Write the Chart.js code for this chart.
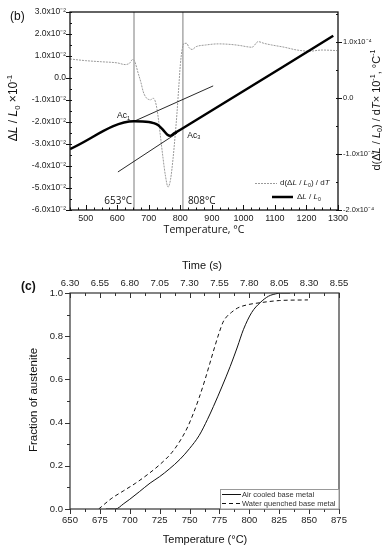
<!DOCTYPE html>
<html>
<head>
<meta charset="utf-8">
<script src="https://cdn.jsdelivr.net/npm/chart.js@4.4.1/dist/chart.umd.min.js"></script>
<style>
body { margin: 0; background: #fff; }
#wrap { position: relative; width: 389px; height: 550px; }
#chartB { position: absolute; left: 0; top: 0; }
#chartC { position: absolute; left: 0; top: 250px; }
</style>
</head>
<body>
<div id="wrap">
<canvas id="chartB" width="389" height="250"></canvas>
<canvas id="chartC" width="389" height="300"></canvas>
</div>
<script>
// ---- pannello (b): dilatometria ----
// dL/L0 in unita di 1e-2
var tempDil = [450, 653, 700, 715, 730, 745, 758, 767, 780, 800, 1285];
var dil = [-3.23, -1.97, -2.0, -2.05, -2.15, -2.36, -2.57, -2.63, -2.52, -2.35, 1.92];
// d(dL/L0)/dT in unita di 1e-4
var tempDer = [450, 500, 550, 600, 625, 640, 648, 655, 666, 675, 682, 690, 698, 706, 713, 720, 726, 731, 736, 745, 753, 761, 769, 777, 783, 789, 795, 800, 806, 812, 820, 828, 837, 850, 880, 920, 960, 990, 1010, 1027, 1047, 1065, 1090, 1130, 1170, 1210, 1250, 1297];
var der = [0.70, 0.67, 0.65, 0.63, 0.60, 0.63, 0.69, 0.66, 0.45, 0.28, 0.12, 0.02, -0.02, -0.03, 0.0, -0.05, -0.2, -0.4, -0.64, -1.07, -1.4, -1.59, -1.45, -1.07, -0.7, -0.29, 0.2, 0.6, 0.88, 0.98, 0.98, 0.9, 0.87, 0.92, 0.95, 0.97, 0.96, 0.94, 0.92, 0.91, 1.01, 0.98, 0.95, 0.91, 0.86, 0.84, 0.86, 0.85];
// rette tangenti
var tan1T = [653, 904];
var tan1V = [-1.97, -0.36];
var tan2T = [602, 790];
var tan2V = [-4.27, -2.5];
// temperature di trasformazione Ac1, Ac3
var transT = [653, 808];
var transLabels = ['653°C', '808°C'];
var ticksTempB = [500, 600, 700, 800, 900, 1000, 1100, 1200, 1300];
var ticksLeftB = [-6, -5, -4, -3, -2, -1, 0, 1, 2, 3];
var ticksRightB = [-2, -1, 0, 1];

// ---- pannello (c): frazione di austenite ----
var tempAir = [680, 688, 695, 700, 708, 717, 725, 733, 742, 750, 758, 765, 770, 777, 784, 790, 795, 802, 809, 816, 822, 826, 834];
var fracAir = [0, 0, 0.025, 0.045, 0.08, 0.12, 0.15, 0.185, 0.23, 0.28, 0.34, 0.415, 0.475, 0.565, 0.66, 0.75, 0.83, 0.91, 0.955, 0.985, 0.996, 1.0, 1.0];
var tempWater = [674, 685, 695, 705, 715, 725, 735, 742, 748, 753, 758, 763, 767, 771, 775, 778, 781, 785, 790, 798, 809, 825, 849];
var fracWater = [0, 0.05, 0.085, 0.12, 0.16, 0.205, 0.26, 0.315, 0.375, 0.44, 0.515, 0.6, 0.675, 0.75, 0.82, 0.865, 0.89, 0.91, 0.93, 0.945, 0.955, 0.965, 0.968];
var ticksTempC = [650, 675, 700, 725, 750, 775, 800, 825, 850, 875];
var ticksTime = [6.30, 6.55, 6.80, 7.05, 7.30, 7.55, 7.80, 8.05, 8.30, 8.55];
var ticksFrac = [0, 0.2, 0.4, 0.6, 0.8, 1.0];

function punti(xs, ys) {
    return xs.map(function (x, i) { return { x: x, y: ys[i] }; });
}
function passi(a, b, s) {
    var out = [];
    for (var v = a; v <= b + 1e-9; v += s) out.push(v);
    return out;
}

// testo con corsivo / pedici / apici
function testoRicco(ctx, parti, x, y, size, family, align) {
    var pezzi = parti.map(function (p) {
        var st = p[1] || '';
        var sz = (st === 'sub' || st === 'sup') ? size * 0.65 : size;
        var f = (st === 'i' ? 'italic ' : '') + sz + 'px ' + family;
        ctx.font = f;
        return { t: p[0], f: f, w: ctx.measureText(p[0]).width, dy: st === 'sub' ? size * 0.3 : (st === 'sup' ? -size * 0.35 : 0) };
    });
    var tot = pezzi.reduce(function (s, p) { return s + p.w; }, 0);
    var cx = align === 'center' ? x - tot / 2 : (align === 'right' ? x - tot : x);
    ctx.textAlign = 'left';
    ctx.textBaseline = 'middle';
    pezzi.forEach(function (p) {
        ctx.font = p.f;
        ctx.fillText(p.t, cx, y + p.dy);
        cx += p.w;
    });
}

// cornice e tacche (principali e secondarie)
var cornice = {
    id: 'cornice',
    afterDatasetsDraw: function (chart, args, opts) {
        var ctx = chart.ctx, a = chart.chartArea;
        ctx.save();
        ctx.strokeStyle = opts.color;
        ctx.lineWidth = 1;
        (opts.tacche || []).forEach(function (m) {
            var sc = chart.scales[m.scala];
            m.valori.forEach(function (v) {
                var p = Math.round(sc.getPixelForValue(v)) + 0.5;
                ctx.beginPath();
                if (m.lato === 'bottom') { ctx.moveTo(p, a.bottom); ctx.lineTo(p, a.bottom + m.len); }
                if (m.lato === 'top') { ctx.moveTo(p, a.top); ctx.lineTo(p, a.top - m.len); }
                if (m.lato === 'left') { ctx.moveTo(a.left, p); ctx.lineTo(a.left - m.len, p); }
                if (m.lato === 'right') { ctx.moveTo(a.right, p); ctx.lineTo(a.right + m.len, p); }
                ctx.stroke();
            });
        });
        ctx.lineWidth = opts.width;
        ctx.strokeRect(a.left, a.top, a.right - a.left, a.bottom - a.top);
        ctx.restore();
    }
};

var fontTick = 'Liberation Sans';

function asse(opz) {
    return Object.assign({
        type: 'linear',
        grid: { display: false, drawTicks: false },
        border: { display: false }
    }, opz);
}

// ================= grafico (b) =================
var testiB = {
    id: 'testiB',
    afterDraw: function (chart) {
        var ctx = chart.ctx, sx = chart.scales.x, sy = chart.scales.y;
        ctx.save();
        ctx.fillStyle = '#111';
        ctx.font = '12px Liberation Sans';
        ctx.textBaseline = 'middle';
        ctx.fillText('(b)', 10, 17);

        // titoli assi
        ctx.save();
        ctx.translate(14, 108);
        ctx.rotate(-Math.PI / 2);
        testoRicco(ctx, [['Δ'], ['L', 'i'], [' / '], ['L', 'i'], ['0', 'sub'], [' ×10'], ['-1', 'sup']], 0, 0, 12, 'Liberation Sans', 'center');
        ctx.restore();
        ctx.save();
        ctx.translate(377, 110);
        ctx.rotate(-Math.PI / 2);
        testoRicco(ctx, [['d(Δ'], ['L', 'i'], [' / '], ['L', 'i'], ['0', 'sub'], [') / d'], ['T', 'i'], ['× 10'], ['-1', 'sup'], [', °C'], ['-1', 'sup']], 0, 0, 11, 'Liberation Sans', 'center');
        ctx.restore();
        testoRicco(ctx, [['Temperature, °C']], 204, 230, 10.5, 'Open Sans', 'center');

        // etichette temperature
        var p1 = sx.getPixelForValue(transT[0]), p2 = sx.getPixelForValue(transT[1]);
        testoRicco(ctx, [[transLabels[0]]], p1 - 2, 201, 10, 'Open Sans', 'right');
        testoRicco(ctx, [[transLabels[1]]], p2 + 5, 201, 10, 'Open Sans', 'left');
        testoRicco(ctx, [['Ac'], ['1', 'sub']], sx.getPixelForValue(599), sy.getPixelForValue(-1.73), 8.5, 'Liberation Sans', 'left');
        testoRicco(ctx, [['Ac'], ['3', 'sub']], sx.getPixelForValue(822), sy.getPixelForValue(-2.6), 8.5, 'Liberation Sans', 'left');

        // legenda
        var dsD = chart.data.datasets[4], dsL = chart.data.datasets[0];
        ctx.strokeStyle = dsD.borderColor;
        ctx.lineWidth = 1;
        ctx.setLineDash([2, 1]);
        ctx.beginPath(); ctx.moveTo(255, 183.5); ctx.lineTo(277, 183.5); ctx.stroke();
        ctx.setLineDash([]);
        ctx.strokeStyle = dsL.borderColor;
        ctx.lineWidth = 2.5;
        ctx.beginPath(); ctx.moveTo(272, 197); ctx.lineTo(293, 197); ctx.stroke();
        ctx.fillStyle = '#222';
        testoRicco(ctx, [['d(Δ'], ['L', 'i'], [' / '], ['L', 'i'], ['0', 'sub'], [') / d'], ['T', 'i']], 280, 183, 8, 'Liberation Sans', 'left');
        testoRicco(ctx, [['Δ'], ['L', 'i'], [' / '], ['L', 'i'], ['0', 'sub']], 297, 197, 8, 'Liberation Sans', 'left');
        ctx.restore();
    }
};

new Chart(document.getElementById('chartB'), {
    type: 'scatter',
    data: {
        datasets: [
            { label: 'ΔL / L0', data: punti(tempDil, dil), showLine: true, borderColor: '#000', borderWidth: 2.5, pointRadius: 0, cubicInterpolationMode: 'monotone', yAxisID: 'y' },
            { label: 'tangente 1', data: punti(tan1T, tan1V), showLine: true, borderColor: '#111', borderWidth: 0.9, pointRadius: 0, yAxisID: 'y' },
            { label: 'tangente 2', data: punti(tan2T, tan2V), showLine: true, borderColor: '#111', borderWidth: 0.9, pointRadius: 0, yAxisID: 'y' },
            { label: 'spazio', data: [], yAxisID: 'y' },
            { label: 'd(ΔL / L0) / dT', data: punti(tempDer, der), showLine: true, borderColor: '#9a9a9a', borderWidth: 1, borderDash: [2, 1], pointRadius: 0, cubicInterpolationMode: 'monotone', yAxisID: 'y2' },
            { label: 'Ac1', data: punti([transT[0], transT[0]], [-6, 3]), showLine: true, borderColor: '#a8a8a8', borderWidth: 1.5, pointRadius: 0, yAxisID: 'y' },
            { label: 'Ac3', data: punti([transT[1], transT[1]], [-6, 3]), showLine: true, borderColor: '#a8a8a8', borderWidth: 1.5, pointRadius: 0, yAxisID: 'y' }
        ]
    },
    options: {
        responsive: false,
        animation: false,
        layout: { padding: { top: 12, left: 0, right: 0, bottom: 0 } },
        plugins: {
            legend: { display: false },
            tooltip: { enabled: false },
            cornice: {
                color: '#111', width: 1.3,
                tacche: [
                    { scala: 'x', lato: 'bottom', valori: ticksTempB, len: -5 },
                    { scala: 'x', lato: 'bottom', valori: passi(450, 1300, 25), len: -2.5 },
                    { scala: 'y', lato: 'left', valori: ticksLeftB, len: 4 },
                    { scala: 'y', lato: 'left', valori: passi(-6, 3, 0.5), len: -2 },
                    { scala: 'y2', lato: 'right', valori: ticksRightB, len: 4 },
                    { scala: 'y2', lato: 'right', valori: passi(-2, 1.5, 0.5), len: -2 }
                ]
            }
        },
        scales: {
            x: asse({
                position: 'bottom', min: 450, max: 1300,
                afterBuildTicks: function (s) { s.ticks = ticksTempB.map(function (v) { return { value: v }; }); },
                afterFit: function (s) { s.height = 40; },
                ticks: {
                    padding: 3, autoSkip: false, maxRotation: 0, minRotation: 0, color: '#222', font: { family: fontTick, size: 9 },
                    callback: function (v) { return String(v); }
                }
            }),
            y: asse({
                position: 'left', min: -6, max: 3,
                afterBuildTicks: function (s) { s.ticks = ticksLeftB.map(function (v) { return { value: v }; }); },
                afterFit: function (s) { s.width = 70; },
                ticks: {
                    padding: 4, color: '#222', font: { family: fontTick, size: 8.5 },
                    callback: function (v) { return v === 0 ? '0.0' : v.toFixed(1) + 'x10⁻²'; }
                }
            }),
            y2: asse({
                position: 'right', min: -2, max: 1.54,
                afterBuildTicks: function (s) { s.ticks = ticksRightB.map(function (v) { return { value: v }; }); },
                afterFit: function (s) { s.width = 51; },
                ticks: {
                    padding: 5, color: '#222', font: { family: fontTick, size: 7.5 },
                    callback: function (v) { return v === 0 ? '0.0' : v.toFixed(1) + 'x10⁻⁴'; }
                }
            })
        }
    },
    plugins: [cornice, testiB]
});

// ================= grafico (c) =================
var testiC = {
    id: 'testiC',
    afterDraw: function (chart) {
        var ctx = chart.ctx, a = chart.chartArea;
        ctx.save();
        ctx.fillStyle = '#111';
        ctx.font = 'bold 12px Liberation Sans';
        ctx.textBaseline = 'middle';
        ctx.textAlign = 'left';
        ctx.fillText('(c)', 21, 37);
        testoRicco(ctx, [['Time (s)']], 202, 16, 11, 'Liberation Sans', 'center');
        testoRicco(ctx, [['Temperature (°C)']], 205, 290, 11, 'Liberation Sans', 'center');
        ctx.save();
        ctx.translate(34, 150);
        ctx.rotate(-Math.PI / 2);
        testoRicco(ctx, [['Fraction of austenite']], 0, 0, 11.5, 'Liberation Sans', 'center');
        ctx.restore();

        // legenda
        var bx = a.right - 119, by = a.bottom - 20;
        ctx.fillStyle = '#fff';
        ctx.fillRect(bx, by, 119, 20);
        ctx.strokeStyle = '#999';
        ctx.lineWidth = 1;
        ctx.strokeRect(bx + 0.5, by + 0.5, 118.5, 19.5);
        var righe = [by + 5.5, by + 14.5];
        chart.data.datasets.forEach(function (ds, i) {
            ctx.strokeStyle = ds.borderColor;
            ctx.lineWidth = 1;
            ctx.setLineDash(ds.borderDash || []);
            ctx.beginPath(); ctx.moveTo(bx + 2, righe[i]); ctx.lineTo(bx + 21, righe[i]); ctx.stroke();
            ctx.setLineDash([]);
            ctx.fillStyle = '#333';
            testoRicco(ctx, [[ds.label]], bx + 22, righe[i], 7.5, 'Liberation Sans', 'left');
        });
        ctx.restore();
    }
};

new Chart(document.getElementById('chartC'), {
    type: 'scatter',
    data: {
        datasets: [
            { label: 'Air cooled base metal', data: punti(tempAir, fracAir), showLine: true, borderColor: '#111', borderWidth: 1, pointRadius: 0, cubicInterpolationMode: 'monotone' },
            { label: 'Water quenched base metal', data: punti(tempWater, fracWater), showLine: true, borderColor: '#111', borderWidth: 1, borderDash: [4, 3], pointRadius: 0, cubicInterpolationMode: 'monotone' }
        ]
    },
    options: {
        responsive: false,
        animation: false,
        layout: { padding: { top: 0, left: 0, right: 50, bottom: 0 } },
        plugins: {
            legend: { display: false },
            tooltip: { enabled: false },
            cornice: {
                color: '#333', width: 1.2,
                tacche: [
                    { scala: 'x', lato: 'bottom', valori: ticksTempC, len: 5 },
                    { scala: 'x', lato: 'bottom', valori: passi(650, 875, 12.5), len: 3 },
                    { scala: 'x2', lato: 'top', valori: ticksTime, len: -5 },
                    { scala: 'x2', lato: 'top', valori: passi(6.30, 8.55, 0.125), len: -3 },
                    { scala: 'y', lato: 'left', valori: ticksFrac, len: 5 },
                    { scala: 'y', lato: 'left', valori: passi(0, 1, 0.1), len: 3 }
                ]
            }
        },
        scales: {
            x: asse({
                position: 'bottom', min: 650, max: 875,
                afterBuildTicks: function (s) { s.ticks = ticksTempC.map(function (v) { return { value: v }; }); },
                afterFit: function (s) { s.height = 41; },
                ticks: {
                    padding: 6, autoSkip: false, maxRotation: 0, minRotation: 0, color: '#222', font: { family: fontTick, size: 9.5 },
                    callback: function (v) { return String(v); }
                }
            }),
            x2: asse({
                axis: 'x', position: 'top', min: 6.30, max: 8.55,
                afterBuildTicks: function (s) { s.ticks = ticksTime.map(function (v) { return { value: v }; }); },
                afterFit: function (s) { s.height = 43; },
                ticks: {
                    padding: 4, autoSkip: false, maxRotation: 0, minRotation: 0, color: '#222', font: { family: fontTick, size: 9.5 },
                    callback: function (v) { return v.toFixed(2); }
                }
            }),
            y: asse({
                position: 'left', min: 0, max: 1,
                afterBuildTicks: function (s) { s.ticks = ticksFrac.map(function (v) { return { value: v }; }); },
                afterFit: function (s) { s.width = 70; },
                ticks: {
                    padding: 7, color: '#222', font: { family: fontTick, size: 9.5 },
                    callback: function (v) { return v.toFixed(1); }
                }
            })
        }
    },
    plugins: [cornice, testiC]
});
</script>
</body>
</html>
